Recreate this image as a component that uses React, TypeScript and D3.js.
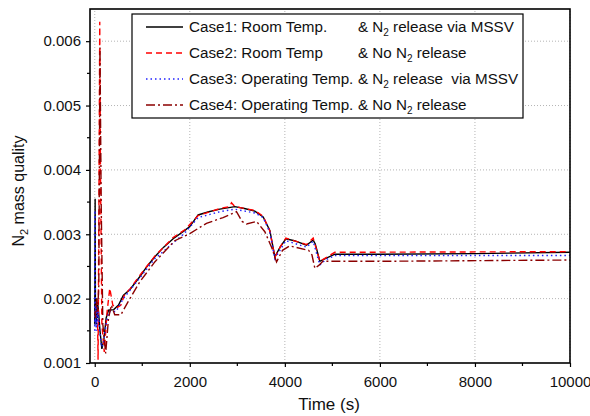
import React, { useEffect, useRef } from 'react'
import { select, scaleLinear, line, axisBottom, axisLeft, range } from 'd3'

// time (s), N2 mass quality
const case1: [number, number][] = [
    [0, 0.0016], [8, 0.00355], [15, 0.0017], [25, 0.002], [35, 0.0016], [45, 0.002], [55, 0.0017],
    [65, 0.0019], [80, 0.0018], [110, 0.0015], [150, 0.00122], [190, 0.00135], [240, 0.0017],
    [290, 0.00182], [400, 0.00183], [500, 0.0019], [600, 0.00205], [750, 0.00215], [947, 0.00234],
    [1100, 0.0025], [1263, 0.00265], [1450, 0.0028], [1650, 0.00293], [1895, 0.00306], [2000, 0.00312],
    [2175, 0.0033], [2400, 0.00335], [2632, 0.00339], [2947, 0.00343], [3150, 0.0034], [3368, 0.00336],
    [3544, 0.00327], [3684, 0.00306], [3790, 0.00265], [3900, 0.0028], [4021, 0.00293], [4200, 0.0029],
    [4456, 0.00283], [4596, 0.00291], [4640, 0.00285], [4737, 0.00258], [4850, 0.00262], [5053, 0.00269],
    [6000, 0.00269], [8000, 0.0027], [10000, 0.00272],
]
const case2: [number, number][] = [
    [60, 0.0016], [70, 0.00105], [88, 0.0035], [105, 0.0063], [120, 0.004], [150, 0.0016], [200, 0.00117],
    [260, 0.0018], [316, 0.00216], [380, 0.0019], [450, 0.00185], [550, 0.0019], [620, 0.00205],
    [750, 0.00216], [947, 0.00236], [1263, 0.00266], [1650, 0.00295], [1895, 0.00307], [2175, 0.00329],
    [2632, 0.0034], [2840, 0.00343], [2877, 0.00349], [2950, 0.00343], [3368, 0.00337], [3544, 0.00328],
    [3684, 0.00305], [3790, 0.00264], [3900, 0.0028], [4021, 0.00294], [4456, 0.00284], [4596, 0.00294],
    [4737, 0.00258], [5053, 0.00272], [10000, 0.00273],
]
const case3: [number, number][] = [
    [0, 0.0015], [5, 0.00337], [12, 0.0016], [22, 0.0019], [32, 0.0015], [42, 0.0019], [55, 0.0016],
    [70, 0.0018], [90, 0.0016], [140, 0.00125], [180, 0.0013], [240, 0.0016], [300, 0.0018], [450, 0.0018],
    [600, 0.002], [947, 0.00232], [1263, 0.00262], [1895, 0.00302], [2175, 0.00326], [2632, 0.00335],
    [2947, 0.00339], [3368, 0.00333], [3544, 0.00326], [3684, 0.00303], [3790, 0.00262], [4021, 0.0029],
    [4456, 0.0028], [4596, 0.00289], [4737, 0.00252], [4850, 0.0026], [5053, 0.00267], [10000, 0.00267],
]
const case4: [number, number][] = [
    [0, 0.0018], [20, 0.0017], [40, 0.002], [60, 0.0018], [85, 0.0022], [110, 0.0059], [135, 0.0035],
    [170, 0.0016], [230, 0.00115], [290, 0.0017], [350, 0.0019], [420, 0.00175], [550, 0.00175],
    [700, 0.00195], [947, 0.00226], [1263, 0.00257], [1684, 0.0029], [2000, 0.00301], [2350, 0.00317],
    [2700, 0.00326], [2982, 0.00335], [3100, 0.0032], [3193, 0.00316], [3404, 0.0032], [3579, 0.00304],
    [3720, 0.0028], [3825, 0.00257], [3950, 0.00275], [4100, 0.00282], [4500, 0.00275], [4570, 0.00268],
    [4632, 0.00247], [4720, 0.00252], [4800, 0.00258], [6000, 0.00258], [10000, 0.0026],
]

const xTicks = [0, 2000, 4000, 6000, 8000, 10000]
const yTicks = [0.001, 0.002, 0.003, 0.004, 0.005, 0.006]

const legendCases = ['Case1: Room Temp.', 'Case2: Room Temp', 'Case3: Operating Temp.', 'Case4: Operating Temp.']
const legendRelease = [['& N', ' release via MSSV'], ['& No N', ' release'], ['& N', ' release  via MSSV'], ['& No N', ' release']]

const series = [
    { data: case1, color: '#000000', dash: null },
    { data: case2, color: '#ff0000', dash: '6,4' },
    { data: case3, color: '#2222ff', dash: '1.5,3' },
    { data: case4, color: '#8b0000', dash: '9,3,2,3' },
]

function App() {
    const svgRef = useRef<SVGSVGElement>(null)
    const width = 590
    const height = 416
    const margin = { left: 90, right: 20, top: 9, bottom: 53 }
    const font = 'Arial, "Liberation Sans", sans-serif'

    useEffect(() => {
        const svg = select(svgRef.current)
        svg.selectAll('*').remove()

        const x = scaleLinear().domain([-100, 10000]).range([margin.left, width - margin.right])
        const y = scaleLinear().domain([0.001, 0.0065]).range([height - margin.bottom, margin.top])

        // grid
        const grid = svg.append('g').attr('stroke', '#b4b4b4').attr('stroke-dasharray', '1,2').attr('stroke-width', 1)
        grid.selectAll('.gx').data(xTicks).join('line')
            .attr('x1', d => x(d)).attr('x2', d => x(d))
            .attr('y1', y.range()[0]).attr('y2', y.range()[1])
        grid.selectAll('.gy').data(yTicks.slice(1)).join('line')
            .attr('y1', d => y(d)).attr('y2', d => y(d))
            .attr('x1', x.range()[0]).attr('x2', x.range()[1])

        // curves
        const path = line<[number, number]>().x(d => x(d[0])).y(d => y(d[1]))
        series.forEach(s => {
            svg.append('path')
                .attr('d', path(s.data))
                .attr('fill', 'none')
                .attr('stroke', s.color)
                .attr('stroke-width', 1.4)
                .attr('stroke-dasharray', s.dash)
        })

        // axes
        const xAxis = svg.append('g')
            .attr('transform', `translate(0, ${height - margin.bottom})`)
            .call(axisBottom(x).tickValues(xTicks).tickSize(4).tickPadding(9).tickFormat(d => String(d)))
        const yAxis = svg.append('g')
            .attr('transform', `translate(${margin.left}, 0)`)
            .call(axisLeft(y).tickValues(yTicks).tickSize(4).tickPadding(5).tickFormat(d => (+d).toFixed(3)))
        ;[xAxis, yAxis].forEach(g => {
            g.select('.domain').remove()
            g.selectAll('text').attr('font-size', 15).attr('font-family', font).attr('fill', '#111')
            g.selectAll('line').attr('stroke', '#000').attr('stroke-width', 1.2)
        })

        svg.append('g').selectAll('line').data(range(1000, 10000, 2000)).join('line')
            .attr('x1', d => x(d)).attr('x2', d => x(d))
            .attr('y1', height - margin.bottom).attr('y2', height - margin.bottom + 3)
            .attr('stroke', '#000').attr('stroke-width', 1.2)
        svg.append('g').selectAll('line').data(range(0.0015, 0.0065, 0.001)).join('line')
            .attr('y1', d => y(d)).attr('y2', d => y(d))
            .attr('x1', margin.left).attr('x2', margin.left - 3)
            .attr('stroke', '#000').attr('stroke-width', 1.2)

        // frame
        svg.append('rect')
            .attr('x', margin.left).attr('y', margin.top)
            .attr('width', width - margin.left - margin.right)
            .attr('height', height - margin.top - margin.bottom)
            .attr('fill', 'none').attr('stroke', '#000').attr('stroke-width', 1.6)

        // axis titles
        svg.append('text')
            .attr('x', 329).attr('y', 410)
            .attr('text-anchor', 'middle')
            .attr('font-size', 17).attr('font-family', font).attr('fill', '#111')
            .text('Time (s)')
        const yt = svg.append('text')
            .attr('transform', 'translate(24, 191) rotate(-90)')
            .attr('text-anchor', 'middle')
            .attr('font-size', 16).attr('font-family', font).attr('fill', '#111')
        yt.append('tspan').text('N')
        yt.append('tspan').attr('font-size', 11).attr('dy', 4).text('2')
        yt.append('tspan').attr('dy', -4).text(' mass quality')

        // legend
        const lg = svg.append('g')
        lg.append('rect')
            .attr('x', 132).attr('y', 14).attr('width', 391).attr('height', 104)
            .attr('fill', '#fff').attr('stroke', '#000').attr('stroke-width', 1.2)
        series.forEach((s, i) => {
            const ly = 27 + i * 26
            lg.append('line')
                .attr('x1', 146).attr('x2', 183).attr('y1', ly).attr('y2', ly)
                .attr('stroke', s.color).attr('stroke-width', 1.4)
                .attr('stroke-dasharray', s.dash)
            lg.append('text')
                .attr('x', 189).attr('y', ly + 5)
                .attr('font-size', 15.2).attr('font-family', font).attr('fill', '#111')
                .text(legendCases[i])
            const t = lg.append('text')
                .attr('x', 358).attr('y', ly + 5)
                .attr('font-size', 15.2).attr('font-family', font).attr('fill', '#111')
                .style('white-space', 'pre')
            t.append('tspan').text(legendRelease[i][0])
            t.append('tspan').attr('font-size', 10).attr('dy', 4).text('2')
            t.append('tspan').attr('dy', -4).text(legendRelease[i][1])
        })
    }, [])

    return (
        <svg
            ref={svgRef}
            width={width}
            height={height}
            style={{ position: 'absolute', left: 0, top: 0, background: '#fff' }}
        ></svg>
    )
}

export default App
